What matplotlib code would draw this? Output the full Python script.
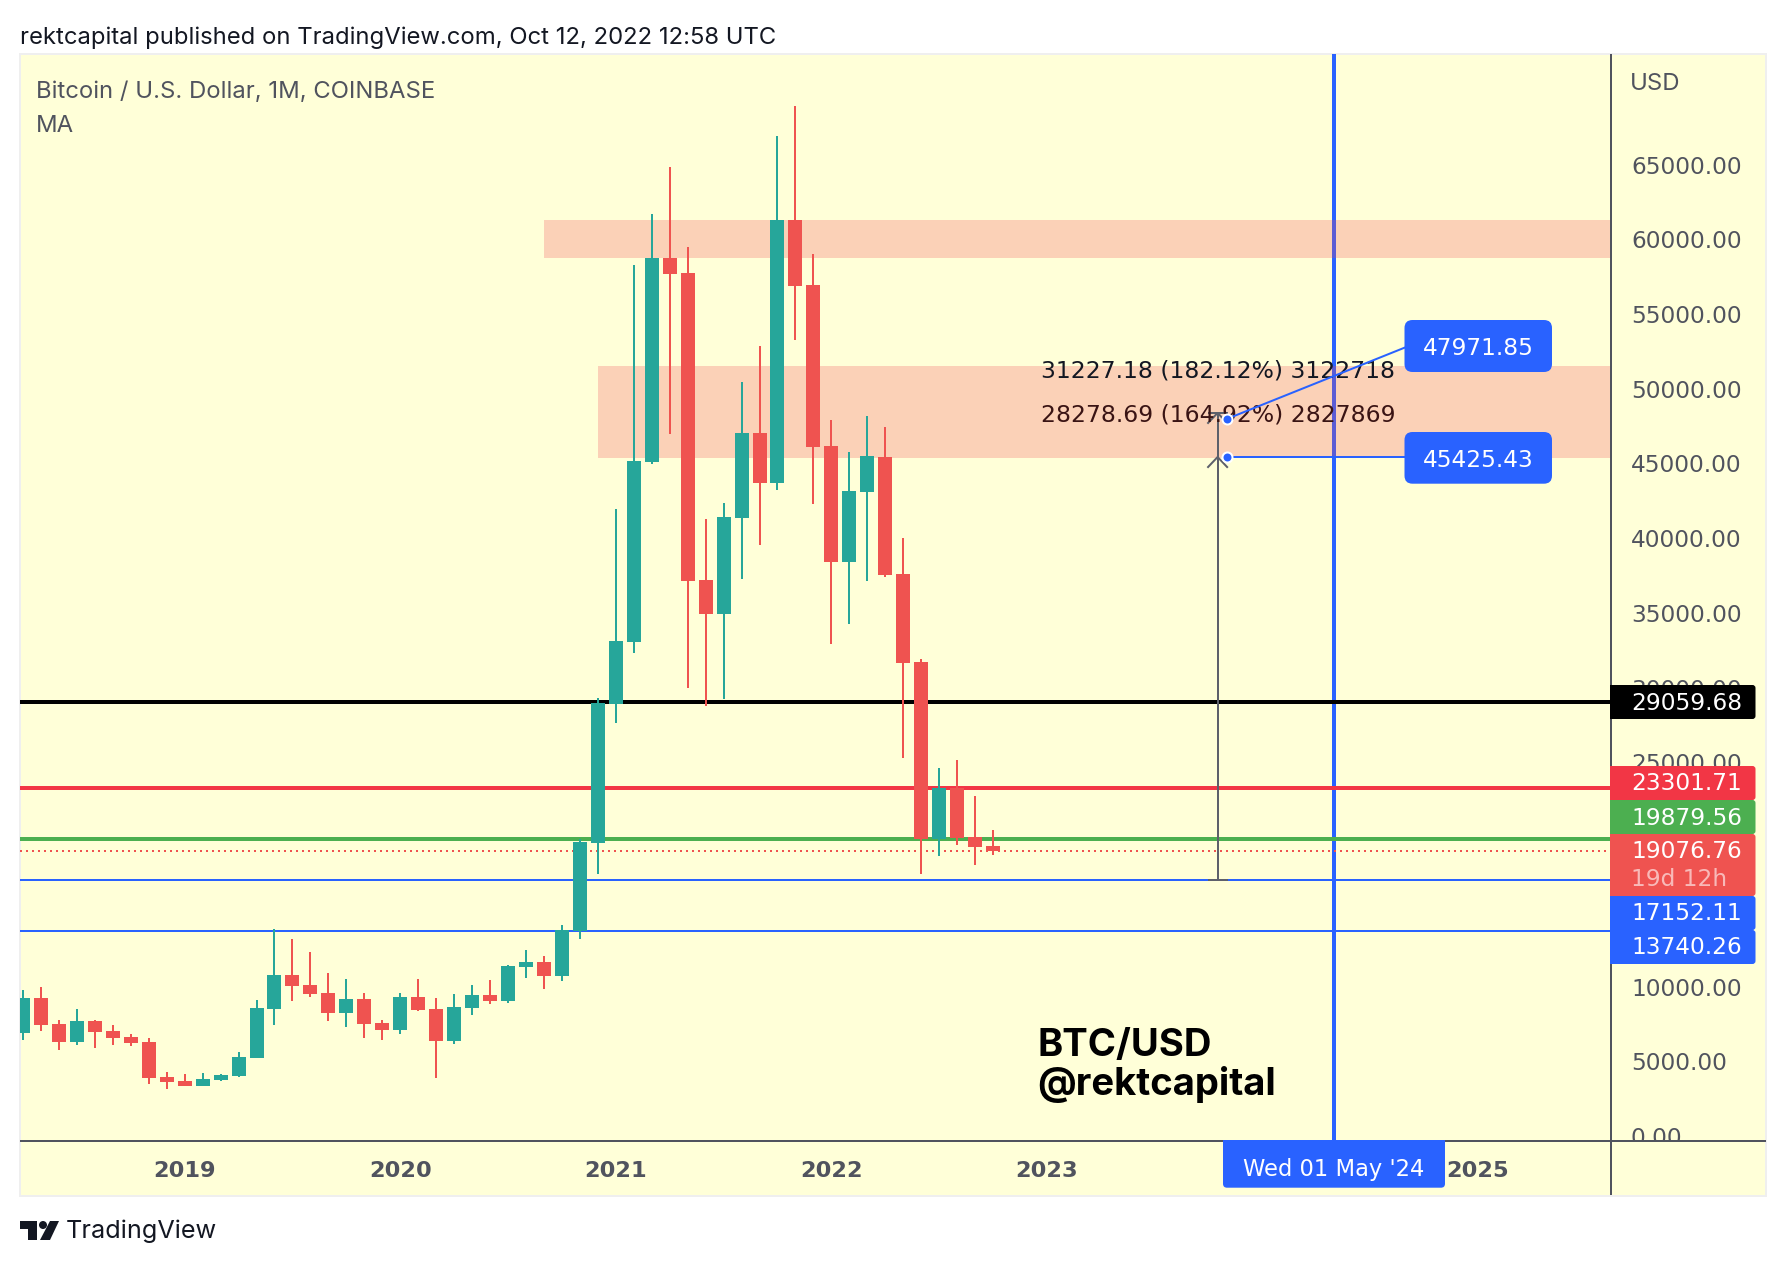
import matplotlib
matplotlib.use('Agg')
import matplotlib.pyplot as plt
from matplotlib.lines import Line2D
from matplotlib.patches import Rectangle, FancyBboxPatch, Polygon, Circle
from matplotlib.transforms import IdentityTransform, Bbox

W, H = 1786, 1266
plt.rcParams['font.family'] = ['Inter', 'DejaVu Sans']

# monthly candles, Apr 2018 to Oct 2022
opens = [6920, 9239, 7500, 6295, 7700, 7031, 6630, 6295, 3954, 3686, 3352, 3753, 4021, 5225,
         8500, 10778, 10110, 9573, 8235, 9172, 7566, 7098, 9306, 8503, 6362, 8570, 9440, 9038,
         11313, 11647, 10711, 13721, 19608, 28907, 33055, 45097, 58745, 57741, 37203, 34929,
         41351, 47037, 43692, 61287, 56939, 46168, 38407, 43090, 45432, 37605, 31717, 19876,
         23288, 20010, 19408]
highs = [9774, 9975, 7767, 8503, 7767, 7433, 6830, 6563, 4288, 4154, 4221, 4154, 5626, 9105,
         13855, 13186, 12316, 10911, 10510, 9573, 7767, 9573, 10510, 9239, 9506, 10109, 10443,
         11447, 12450, 12049, 14123, 19854, 29309, 41953, 58277, 61688, 64833, 59481, 41284,
         42354, 50449, 52858, 66907, 68914, 59013, 47907, 45766, 48175, 47439, 40013, 31918,
         24626, 25161, 22753, 20478]
lows = [6429, 7031, 5760, 6095, 5894, 6095, 6028, 3485, 3151, 3340, 3340, 3686, 3980, 5200,
        7433, 9038, 9306, 7700, 7299, 6563, 6429, 6830, 8400, 3887, 6161, 8102, 8838, 8904,
        10577, 9841, 10376, 13186, 17534, 27636, 32319, 44963, 46970, 29978, 28774, 29242,
        37270, 39545, 43224, 53259, 42287, 32921, 34259, 37136, 37400, 25295, 17534, 18739,
        19475, 18137, 18806]
closes = [9239, 7433, 6295, 7700, 6964, 6563, 6228, 3887, 3619, 3352, 3820, 4088, 5292, 8570,
          10778, 10042, 9506, 8235, 9172, 7499, 7098, 9306, 8436, 6362, 8637, 9440, 9038, 11380,
          11647, 10711, 13788, 19675, 29000, 33122, 45164, 58745, 57674, 37136, 34929, 41418,
          47037, 43692, 61287, 56872, 46101, 38407, 43157, 45499, 37538, 31650, 19876, 23288,
          19943, 19341, 19076.76]

year_ticks = [9, 21, 33, 45, 57, 81]
year_labels = ['2019', '2020', '2021', '2022', '2023', '2025']
# 15000 and 20000 are hidden behind the price tags in the original
price_ticks = [0, 5000, 10000, 25000, 30000, 35000, 40000, 45000, 50000, 55000, 60000, 65000]

level_black = 29059.68
level_red = 23301.71
level_green = 19879.56
level_last = 19076.76
level_blue1 = 17152.11
level_blue2 = 13740.26

zone_top = (29, 61288, 58745)
zone_mid = (32, 51520, 45365)

trend_x = [67, 77]
trend_y = [47971.85, 52790]
flat_x = [67, 77]
flat_y = [45425.43, 45425.43]

measure_x = 66.5
measure_base = 17152.11
measure_first = 31227.18
measure_second = 28278.69
measure_text1 = '31227.18 (182.12%) 3122718'
measure_text2 = '28278.69 (164.92%) 2827869'

date_month = 73

BG = '#FFFFD8'
GREEN = '#26A69A'
RED = '#EF5350'
BLUE = '#2962FF'
GREY = '#50535E'
NUM = 'DejaVu Sans'  # tabular digits, close to the widths of the original labels
PX = 0.72  # points per pixel at dpi 100


def fx(x):
    return x / W


def fy(y):
    return 1 - y / H


def text_at(x, y, s, **kw):
    kw.setdefault('va', 'center')
    return fig.text(fx(x), fy(y), s, **kw)


def box(x0, y0, x1, y1, color, radius=3, square_left=False, zorder=1):
    # pixel box on the figure, y counted from the top
    fig.add_artist(FancyBboxPatch((x0, H - y1), x1 - x0, y1 - y0,
                                  boxstyle=f'round,pad=0,rounding_size={radius}',
                                  fc=color, ec='none', transform=IdentityTransform(), zorder=zorder))
    if square_left:
        fig.add_artist(Rectangle((x0, H - y1), radius + 2, y1 - y0, fc=color, ec='none',
                                 transform=IdentityTransform(), zorder=zorder))


def pixel_line(x0, y0, x1, y1, color, width, zorder=1):
    fig.add_artist(Line2D([x0, x1], [H - y0, H - y1], color=color, lw=width * PX,
                          transform=IdentityTransform(), zorder=zorder, solid_capstyle='butt'))


fig = plt.figure(figsize=(W / 100, H / 100), dpi=100, facecolor='white')

# chart background with its thin frame
fig.add_artist(Rectangle((20, H - 1195.5), 1746, 1142, fc=BG, ec='#EFEFEF', lw=2 * PX,
                         transform=IdentityTransform(), zorder=-1))

ax = fig.add_axes([fx(20), fy(1140.7), (1611 - 20) / W, (1140.7 - 54) / H])
ax.patch.set_alpha(0)
ax.set_xlim(-0.167, 88.4)
ax.set_ylim(-308, 72393)
for side in ax.spines:
    ax.spines[side].set_visible(False)

# zones sit over the vertical line but under the candles
ax.axvline(date_month, color=BLUE, lw=4 * PX, zorder=1)
for start, top, bottom in (zone_top, zone_mid):
    ax.axhspan(bottom, top, xmin=(start + 0.167) / 88.567, xmax=1, fc=(243 / 255, 75 / 255, 85 / 255),
               alpha=0.25, lw=0, zorder=1.5)

ax.axhline(level_black, color='black', lw=4 * PX, zorder=2)
ax.axhline(level_red, color='#F23645', lw=4 * PX, zorder=2)
ax.axhline(level_green, color='#4CAF50', lw=4 * PX, zorder=2)
ax.axhline(level_blue1, color=BLUE, lw=2 * PX, zorder=2)
ax.axhline(level_blue2, color=BLUE, lw=2 * PX, zorder=2)
ax.axhline(level_last, color=RED, lw=2 * PX, ls=(0, (1, 2)), zorder=2)

months = list(range(len(opens)))
colors = [GREEN if c >= o else RED for o, c in zip(opens, closes)]
ax.vlines(months, lows, highs, colors=colors, lw=2 * PX, zorder=3)
ax.bar(months, [c - o for o, c in zip(opens, closes)], bottom=opens, width=0.78, color=colors,
       lw=0, zorder=3.1)

# long position tool
top_price = measure_base + measure_first
mid_price = measure_base + measure_second
tool = '#5D606B'
ax.plot([measure_x, measure_x], [measure_base, top_price], color=tool, lw=2 * PX, zorder=4)
ax.plot([measure_x - 0.5, measure_x + 0.5], [measure_base, measure_base], color=tool, lw=2 * PX, zorder=4)
ax.plot([measure_x - 0.5, measure_x + 0.5], [top_price, top_price], color=tool, lw=2 * PX, zorder=4)
for tip in (top_price, mid_price):
    ax.plot([measure_x - 0.53, measure_x, measure_x + 0.53], [tip - 670, tip, tip - 670], color=tool,
            lw=2 * PX, zorder=4)

ax.text(fx(1041), fy(371), measure_text1, transform=fig.transFigure, family=NUM, color='#131722',
        fontsize=16.9, va='center', zorder=4.5)
ax.text(fx(1041), fy(415), measure_text2, transform=fig.transFigure, family=NUM, color='#3A1414',
        fontsize=16.9, va='center', zorder=4.5)

ax.plot(trend_x, trend_y, color=BLUE, lw=2 * PX, zorder=5, solid_capstyle='butt')
ax.plot(flat_x, flat_y, color=BLUE, lw=2 * PX, zorder=5, solid_capstyle='butt')
ax.plot([trend_x[0], flat_x[0]], [trend_y[0], flat_y[0]], ls='', marker='o', ms=10 * PX, mfc=BLUE,
        mec='white', mew=2 * PX, zorder=6)

# axes ticks
ax.yaxis.tick_right()
ax.set_yticks(price_ticks)
ax.set_yticklabels([f'{p}.00' for p in price_ticks], color=GREY, fontsize=16.75, family=NUM)
ax.set_xticks(year_ticks)
ax.set_xticklabels(year_labels, color=GREY, fontsize=16.2, fontweight='bold', family=NUM)
ax.tick_params(axis='y', length=0, pad=14.4)
ax.tick_params(axis='x', length=0, pad=14.5)

# the 0.00 label is cut off by the bottom rule
fig.canvas.draw()
for lbl, p in zip(ax.get_yticklabels(), price_ticks):
    if p == 0:
        lbl.set_clip_box(Bbox([[1611, H - 1140.7], [1766, H - 1100]]))
        lbl.set_clip_on(True)

pixel_line(20, 1140.7, 1766, 1140.7, GREY, 2)
pixel_line(1611, 54, 1611, 1195, GREY, 2)

# anchored price tags
box(1404.5, 320, 1552, 372, BLUE, radius=8)
text_at(1478, 348.7, f'{trend_y[0]:.2f}', color='white', fontsize=16.75, family=NUM, ha='center', zorder=5)
box(1404.5, 432, 1552, 483.7, BLUE, radius=8)
text_at(1478, 460, f'{flat_y[0]:.2f}', color='white', fontsize=16.75, family=NUM, ha='center', zorder=5)

# price scale tags
tags = [(685, 719, 703.5, level_black, 'black'),
        (766, 800, 784, level_red, '#F23645'),
        (800, 834, 818.5, level_green, '#4CAF50'),
        (834, 896, 852, level_last, RED),
        (896, 930, 914, level_blue1, BLUE),
        (930, 964, 948, level_blue2, BLUE)]
for y0, y1, ty, value, color in tags:
    box(1610, y0, 1755.5, y1, color, square_left=True)
    text_at(1631, ty, f'{value:.2f}', color='white', fontsize=16.75, family=NUM, zorder=5)
text_at(1631, 880, '19d 12h', color='white', alpha=0.6, fontsize=16.75, family=NUM, zorder=5)

# date tag on the time scale, flat along the axis rule
box(1223, 1140, 1445, 1187.7, BLUE, radius=4)
fig.add_artist(Rectangle((1223, H - 1146), 222, 6, fc=BLUE, ec='none', transform=IdentityTransform(), zorder=1))
text_at(1334, 1169.5, "Wed 01 May '24", color='white', fontsize=16.3, family=NUM, ha='center', zorder=5)

# chart notes
text_at(1037, 1046.5, 'BTC/USD', color='black', fontsize=27.5, fontweight='bold')
text_at(1037, 1084.5, '@rektcapital', color='black', fontsize=27.5, fontweight='bold')
text_at(36, 92, 'Bitcoin / U.S. Dollar, 1M, COINBASE', color=GREY, fontsize=17.2)
text_at(36, 126, 'MA', color=GREY, fontsize=17.2)
text_at(1630, 83.5, 'USD', color=GREY, fontsize=17.2)

text_at(20, 38, 'rektcapital published on TradingView.com, Oct 12, 2022 12:58 UTC', color='#131722', fontsize=17.16)

# TradingView logo and name
logo = '#131722'
fig.add_artist(Polygon([(20, H - 1221), (37, H - 1221), (37, H - 1240), (28, H - 1240), (28, H - 1229), (20, H - 1229)],
                       fc=logo, ec='none', transform=IdentityTransform(), zorder=1))
fig.add_artist(Circle((43, H - 1225), 4, fc=logo, ec='none', transform=IdentityTransform(), zorder=1))
fig.add_artist(Polygon([(50, H - 1221), (59, H - 1221), (50, H - 1240), (40, H - 1240)],
                       fc=logo, ec='none', transform=IdentityTransform(), zorder=1))
text_at(66, 1231, 'TradingView', color=logo, fontsize=18.2)

fig.savefig('out.png', dpi=100, facecolor='white')
